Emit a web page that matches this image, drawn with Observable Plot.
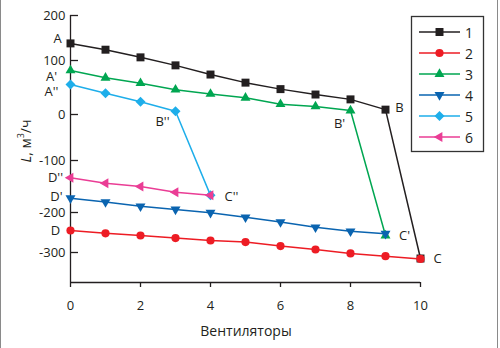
<!DOCTYPE html>
<html><head><meta charset="utf-8">
<script src="https://cdn.jsdelivr.net/npm/d3@7"></script>
<script src="https://cdn.jsdelivr.net/npm/@observablehq/plot@0.6"></script>
<style>
body{margin:0;background:#fff;}
#wrap{position:relative;width:500px;height:348px;overflow:hidden;font-family:"Open Sans",sans-serif;}
#frame{position:absolute;left:0;top:0;width:496px;height:348px;border-left:1px solid #8a8a8a;border-right:1px solid #8a8a8a;pointer-events:none;}
#legend{position:absolute;left:0;top:0;pointer-events:none;}
svg text{font-family:"Open Sans",sans-serif;}
</style></head><body><div id="wrap"><div id="frame"></div></div>
<script>
// ---- data ----
const seriesNames = ["1","2","3","4","5","6"];
const x1 = [0,1,2,3,4,5,6,7,8,9,10];
const y1 = [138,124,107,91,74,59,47,37,28,9,-313];
const x2 = [0,1,2,3,4,5,6,7,8,9,10];
const y2 = [-245,-252,-257.5,-264,-270,-274,-284,-292.5,-302,-308,-314];
const x3 = [0,1,2,3,4,5,6,7,8,9];
const y3 = [81.5,68,58,46,38,31,19,15,7.4,-257.5];
const x4 = [0,1,2,3,4,5,6,7,8,9];
const y4 = [-172.5,-180,-188,-194,-200.6,-212,-224,-237,-247,-253];
const x5 = [0,1,2,3,4];
const y5 = [55.6,39.4,23.5,6,-167];
const x6 = [0,1,2,3,4];
const y6 = [-133,-143.7,-150,-161,-167];
const xTicks = [0,2,4,6,8,10];
const yTicks = [-300,-200,-100,0,100,200];
const xLabel = "Вентиляторы";
// point labels: text, series, index of point
const pointLabels = [
  {text:"A", s:"1", i:0}, {text:"B", s:"1", i:9}, {text:"C", s:"1", i:10},
  {text:"A'", s:"3", i:0}, {text:"B'", s:"3", i:8}, {text:"C'", s:"3", i:9},
  {text:"A''", s:"5", i:0}, {text:"B''", s:"5", i:3}, {text:"C''", s:"5", i:4},
  {text:"D", s:"2", i:0}, {text:"D'", s:"4", i:0}, {text:"D''", s:"6", i:0}
];

// ---- build table ----
const xs = [x1,x2,x3,x4,x5,x6], ys = [y1,y2,y3,y4,y5,y6];
const rows = seriesNames.flatMap((s,k) => xs[k].map((x,i) => ({series:s, x, y: ys[k][i]})));

// ---- styles ----
const colors = {"1":"#231f20","2":"#ed1c24","3":"#00a651","4":"#0a64b0","5":"#1eaeea","6":"#ea3d95"};
const sym = {
  "1": {symbol:"square", r:4.5, rotate:0},
  "2": {symbol:"circle", r:4.1, rotate:0},
  "3": {symbol:"triangle", r:3.7, rotate:0},
  "4": {symbol:"triangle", r:3.7, rotate:180},
  "5": {symbol:"square", r:4.0, rotate:45},
  "6": {symbol:"triangle", r:3.7, rotate:-90}
};
const labelOffsets = {
  "A":[-13,-5], "A'":[-19,6], "A''":[-19,7],
  "B''":[-13,11], "B'":[-11,13], "B":[14,-2],
  "C''":[21,1], "C'":[19,0], "C":[17,0],
  "D''":[-15,0], "D'":[-14,-1], "D":[-15,0]
};
const ink = "#231f20";

// the original axis is slightly uneven between ticks: warp values so ticks land where the reference has them
const yMin = -365;
const warp = d3.scaleLinear().domain([yMin,-300,-200,-100,0,100,200]).range([0,30,70,122,168,222,267]);

const marks = [];
marks.push(Plot.ruleX([0], {stroke: ink, strokeWidth: 1.3}));
marks.push(Plot.ruleY([yMin], {stroke: ink, strokeWidth: 1.3}));
marks.push(Plot.axisX({ticks: xTicks, tickSize: 5, tickPadding: 13, fontSize: 13, label: null, color: ink, strokeWidth: 1.3}));
marks.push(Plot.axisY(yTicks, {tickSize: -8, tickPadding: 13, fontSize: 13, label: null, color: ink, strokeWidth: 1.3,
  tickFormat: v => String(v)}));
for (const s of seriesNames) {
  const data = rows.filter(d => d.series === s);
  marks.push(Plot.line(data, {x:"x", y:"y", stroke: colors[s], strokeWidth: 1.5}));
  marks.push(Plot.dot(data, {x:"x", y:"y", fill: colors[s], stroke: "none", symbol: sym[s].symbol, r: sym[s].r, rotate: sym[s].rotate}));
}
for (const p of pointLabels) {
  const d = rows.filter(r => r.series === p.s)[p.i];
  const [dx, dy] = labelOffsets[p.text];
  marks.push(Plot.text([{x: d.x, y: d.y, t: p.text}], {x:"x", y:"y", text:"t", dx, dy, fontSize: 13, fill: ink}));
}

const chart = Plot.plot({
  width: 500, height: 348,
  marginTop: 15, marginBottom: 66, marginLeft: 70, marginRight: 80,
  x: {domain: [0, 10]},
  y: {type: "linear", transform: warp, domain: [0, 267]},
  style: {background: "transparent", fontFamily: "Open Sans, sans-serif"},
  marks
});
document.getElementById("wrap").appendChild(chart);

// axis titles
const svg = d3.select(chart);
svg.append("text").attr("x", 246).attr("y", 330).attr("text-anchor","middle")
  .attr("dominant-baseline","central").attr("font-size", 14).attr("fill", ink).text(xLabel);
const yl = svg.append("text").attr("transform","translate(25,141) rotate(-90)")
  .attr("text-anchor","middle").attr("dominant-baseline","central").attr("font-size",14).attr("fill",ink);
yl.append("tspan").attr("font-style","italic").text("L");
yl.append("tspan").text(", м");
yl.append("tspan").attr("font-size",9).attr("dy",-5).text("3");
yl.append("tspan").attr("dy",5).text("/ч");

// legend
const lg = d3.select("#wrap").append("svg").attr("id","legend").attr("width",500).attr("height",348);
lg.append("rect").attr("x",411.5).attr("y",16.5).attr("width",72).attr("height",135)
  .attr("fill","#fff").attr("stroke","#333").attr("stroke-width",1.3);
const symTypes = {square: d3.symbolSquare, circle: d3.symbolCircle, triangle: d3.symbolTriangle};
seriesNames.forEach((s,i) => {
  const yy = 32 + i*21;
  lg.append("line").attr("x1",419).attr("x2",460).attr("y1",yy).attr("y2",yy).attr("stroke",colors[s]).attr("stroke-width",1.5);
  lg.append("path").attr("d", d3.symbol(symTypes[sym[s].symbol], Math.PI*sym[s].r*sym[s].r)())
    .attr("transform",`translate(439.5,${yy}) rotate(${sym[s].rotate})`).attr("fill",colors[s]);
  lg.append("text").attr("x",465).attr("y",yy).attr("dominant-baseline","central").attr("font-size",14).attr("fill",ink).text(s);
});
</script></body></html>
